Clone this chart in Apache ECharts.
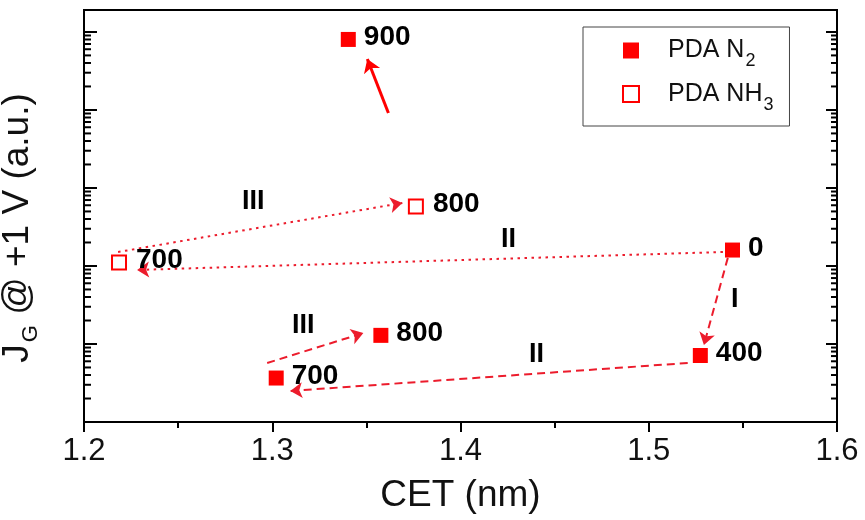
<!DOCTYPE html>
<html>
<head>
<meta charset="utf-8">
<script src="https://cdn.jsdelivr.net/npm/echarts@6/dist/echarts.min.js"></script>
<style>
  html, body { margin: 0; padding: 0; background: #fff; }
  #chart { width: 865px; height: 520px; }
</style>
</head>
<body>
<div id="chart"></div>
<script>
// Gate current after annealing, plotted against capacitance equivalent thickness.
// Each point: [CET (nm), J_G (a.u.), anneal temperature label]
const pdaN2 = [
  [1.5445, 160, '0'],
  [1.5274, 7.12, '400'],
  [1.3021, 3.66, '700'],
  [1.3577, 12.9, '800'],
  [1.3404, 80100, '900']
];
const pdaNH3 = [
  [1.2186, 111, '700'],
  [1.3763, 579, '800']
];

// Trajectory arrows: [x1, y1, x2, y2]
const arrowsN2 = [
  [1.5420, 127, 1.5293, 9.7],     // I
  [1.5207, 5.71, 1.3096, 2.50],   // II
  [1.2973, 5.71, 1.3484, 13.8]    // III
];
const arrowsNH3 = [
  [1.5394, 151, 1.2282, 88.9],    // II
  [1.2181, 151, 1.3691, 642]      // III
];
const arrow900 = [
  [1.3617, 9150, 1.3505, 45000]
];

// Step annotations: [x, y, text]
const stepLabels = [
  [1.2899, 662, 'III'],
  [1.4255, 215, 'II'],
  [1.5457, 36.7, 'I'],
  [1.4404, 7.23, 'II'],
  [1.3165, 17.0, 'III']
];

const xTicks = [1.2, 1.3, 1.4, 1.5, 1.6];
const yMin = 1, yMax = 191000;

// log-axis minor tick values (2..9 x 10^n)
const yMinor = [];
for (let e = 0; e <= 5; e++) {
  for (let m = 2; m <= 9; m++) {
    const v = m * Math.pow(10, e);
    if (v < yMax) yMinor.push([xTicks[0], v]);
  }
}

const RED = '#ff0000';
const LINE_RED = '#ec1c2c';
const FONT = 'Liberation Sans, Arial, sans-serif';

const toLines = arr => arr.map(a => ({ coords: [[a[0], a[1]], [a[2], a[3]]] }));

const chart = echarts.init(document.getElementById('chart'), null, { renderer: 'canvas' });

const yAxisBase = {
  type: 'log',
  logBase: 10,
  min: yMin,
  max: yMax,
  axisLine: { show: true, lineStyle: { color: '#000', width: 2 } },
  axisLabel: { show: false },
  splitLine: { show: false }
};

chart.setOption({
  animation: false,
  backgroundColor: '#fff',
  textStyle: { fontFamily: FONT },
  grid: {
    left: 84, right: 28, top: 10, bottom: 98,
    containLabel: false,
    outerBoundsMode: 'none',
    show: true, borderColor: '#000', borderWidth: 2
  },
  legend: {
    data: ['PDA N2', 'PDA NH3'],
    orient: 'vertical',
    left: 583, top: 27,
    padding: [11, 16, 12, 39],
    itemGap: 11,
    itemWidth: 16, itemHeight: 16,
    borderColor: '#444', borderWidth: 1,
    formatter: n => n === 'PDA N2' ? 'PDA N{s|2}' : 'PDA NH{s|3}',
    textStyle: {
      fontFamily: FONT, fontSize: 25, color: '#111',
      padding: [0, 0, 0, 24],
      rich: { s: { fontFamily: FONT, fontSize: 18, color: '#111', padding: [22, 0, 0, 1] } }
    }
  },
  xAxis: [{
    type: 'value',
    min: xTicks[0], max: xTicks[xTicks.length - 1], interval: 0.1,
    name: 'CET (nm)',
    nameLocation: 'middle',
    nameGap: 55,
    nameTextStyle: { fontFamily: FONT, fontSize: 37, color: '#111' },
    axisLine: { show: true, lineStyle: { color: '#000', width: 2 } },
    axisTick: { show: true, inside: false, length: 10, lineStyle: { color: '#000', width: 2 } },
    minorTick: { show: true, splitNumber: 2, length: 6, lineStyle: { color: '#000', width: 2 } },
    axisLabel: { fontFamily: FONT, fontSize: 31, color: '#111', margin: 14, formatter: v => v.toFixed(1) },
    splitLine: { show: false }
  }],
  yAxis: [
    Object.assign({}, yAxisBase, {
      position: 'left',
      name: 'J{s|G} @ +1 V (a.u.)',
      nameLocation: 'middle',
      nameGap: 42,
      nameRotate: 90,
      nameTextStyle: {
        fontFamily: FONT, fontSize: 37, color: '#111',
        padding: [0, 24, 0, 0],
        rich: { s: { fontFamily: FONT, fontSize: 22, color: '#111', padding: [26, 0, 0, 2] } }
      },
      axisTick: { show: true, inside: true, length: 13, lineStyle: { color: '#000', width: 2 } }
    }),
    Object.assign({}, yAxisBase, {
      position: 'right',
      axisTick: { show: true, inside: true, length: 11, lineStyle: { color: '#000', width: 2 } }
    })
  ],
  series: [
    {
      name: 'minorY',
      type: 'custom',
      silent: true,
      data: yMinor,
      renderItem: (params, api) => {
        const p = api.coord([api.value(0), api.value(1)]);
        const cs = params.coordSys;
        const style = { stroke: '#000', lineWidth: 2 };
        return {
          type: 'group',
          children: [
            { type: 'line', shape: { x1: cs.x, y1: p[1], x2: cs.x + 7, y2: p[1] }, style },
            { type: 'line', shape: { x1: cs.x + cs.width - 6, y1: p[1], x2: cs.x + cs.width, y2: p[1] }, style }
          ]
        };
      },
      z: 1
    },
    {
      name: 'arrowsNH3',
      type: 'lines',
      coordinateSystem: 'cartesian2d',
      silent: true,
      symbol: ['none', 'arrow'],
      symbolSize: 12,
      lineStyle: { color: LINE_RED, width: 2, type: [2.5, 4.5], opacity: 1 },
      data: toLines(arrowsNH3),
      z: 2
    },
    {
      name: 'arrowsN2',
      type: 'lines',
      coordinateSystem: 'cartesian2d',
      silent: true,
      symbol: ['none', 'arrow'],
      symbolSize: 12,
      lineStyle: { color: LINE_RED, width: 2, type: [8, 5], opacity: 1 },
      data: toLines(arrowsN2),
      z: 2
    },
    {
      name: 'arrow900',
      type: 'lines',
      coordinateSystem: 'cartesian2d',
      silent: true,
      symbol: ['none', 'arrow'],
      symbolSize: 13,
      lineStyle: { color: RED, width: 3, type: 'solid', opacity: 1 },
      data: toLines(arrow900),
      z: 2
    },
    {
      name: 'PDA N2',
      type: 'scatter',
      symbol: 'rect',
      symbolSize: 15,
      itemStyle: { color: RED, opacity: 1 },
      label: {
        show: true, position: 'right', distance: 8, offset: [0, -2],
        formatter: p => p.value[2],
        fontFamily: FONT, fontSize: 28, fontWeight: 'bold', color: '#000'
      },
      data: pdaN2,
      z: 3
    },
    {
      name: 'PDA NH3',
      type: 'scatter',
      symbol: 'rect',
      symbolSize: 14,
      itemStyle: { color: '#fff', borderColor: RED, borderWidth: 2, opacity: 1 },
      label: {
        show: true, position: 'right', distance: 9, offset: [0, -2],
        formatter: p => p.value[2],
        fontFamily: FONT, fontSize: 28, fontWeight: 'bold', color: '#000'
      },
      data: pdaNH3,
      z: 3
    },
    {
      name: 'steps',
      type: 'custom',
      silent: true,
      data: stepLabels,
      renderItem: (params, api) => {
        const p = api.coord([api.value(0), api.value(1)]);
        return {
          type: 'text',
          x: p[0], y: p[1],
          style: {
            text: stepLabels[params.dataIndex][2],
            fill: '#000',
            font: 'bold 27px ' + FONT,
            align: 'center',
            verticalAlign: 'middle'
          }
        };
      },
      z: 3
    }
  ]
});
</script>
</body>
</html>
